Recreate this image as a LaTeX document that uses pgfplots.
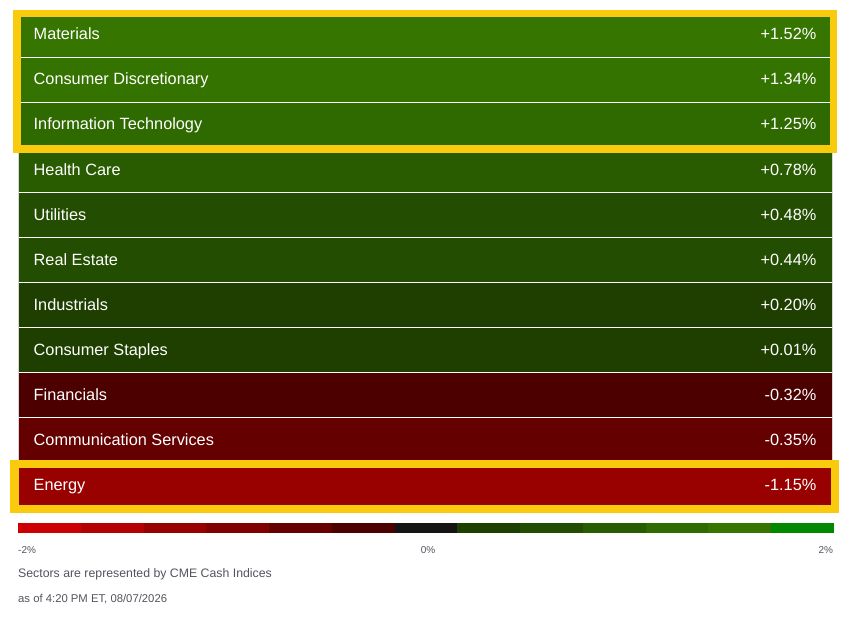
\documentclass[border=0pt]{standalone}
\usepackage{pgfplots}
\pgfplotsset{compat=1.18}
\usepackage{fontspec}
\setmainfont{Liberation Sans}

% row colours
\definecolor{cMat}{RGB}{53,117,0}
\definecolor{cDisc}{RGB}{53,115,0}
\definecolor{cTech}{RGB}{47,106,0}
\definecolor{cHealth}{RGB}{41,91,0}
\definecolor{cUtil}{RGB}{35,77,0}
\definecolor{cReal}{RGB}{35,77,0}
\definecolor{cInd}{RGB}{30,63,0}
\definecolor{cStap}{RGB}{30,63,0}
\definecolor{cFin}{RGB}{76,0,0}
\definecolor{cComm}{RGB}{100,0,0}
\definecolor{cEn}{RGB}{153,0,0}
\definecolor{hl}{RGB}{250,202,12}
\definecolor{foot}{RGB}{80,84,92}
\definecolor{edge}{RGB}{215,215,215}

% scale colours, -2% to 2%
\definecolor{s1}{RGB}{204,0,0}
\definecolor{s2}{RGB}{179,0,0}
\definecolor{s3}{RGB}{153,0,0}
\definecolor{s4}{RGB}{128,0,0}
\definecolor{s5}{RGB}{102,0,0}
\definecolor{s6}{RGB}{76,0,0}
\definecolor{s7}{RGB}{20,20,20}
\definecolor{s8}{RGB}{29,64,0}
\definecolor{s9}{RGB}{34,77,0}
\definecolor{s10}{RGB}{40,92,0}
\definecolor{s11}{RGB}{46,107,0}
\definecolor{s12}{RGB}{53,117,0}
\definecolor{s13}{RGB}{0,136,0}

% top, bottom, baseline, colour, name, change
\newcommand{\sector}[6]{%
  \addplot[fill=#4, draw=none] coordinates {(19,#1) (832,#1) (832,#2) (19,#2)} -- cycle;
  \node[anchor=base west, inner sep=0, text=white, font=\rowfont] at (axis cs:33.5,#3) {#5};
  \node[anchor=base east, inner sep=0, text=white, font=\rowfont] at (axis cs:816.5,#3) {#6};
}
\newcommand{\rowfont}{\fontsize{16.3bp}{19bp}\selectfont}
\newcommand{\seg}[3]{%
  \addplot[fill=#3, draw=none] coordinates {(#1,523.3) (#2,523.3) (#2,532.7) (#1,532.7)} -- cycle;
}

\begin{document}
\begin{tikzpicture}
\begin{axis}[
    width=852bp, height=617bp, scale only axis,
    xmin=0, xmax=852, ymin=0, ymax=617, y dir=reverse,
    hide axis, clip=false,
]
\sector{12.3}{57.3}{40}{cMat}{Materials}{+1.52\%}
\sector{57.3}{102.3}{85}{cDisc}{Consumer Discretionary}{+1.34\%}
\sector{102.3}{147.3}{130}{cTech}{Information Technology}{+1.25\%}
\sector{147.3}{192.3}{175}{cHealth}{Health Care}{+0.78\%}
\sector{192.3}{237.3}{220}{cUtil}{Utilities}{+0.48\%}
\sector{237.3}{282.3}{265}{cReal}{Real Estate}{+0.44\%}
\sector{282.3}{327.3}{310}{cInd}{Industrials}{+0.20\%}
\sector{327.3}{372.3}{355}{cStap}{Consumer Staples}{+0.01\%}
\sector{372.3}{417.3}{400}{cFin}{Financials}{-0.32\%}
\sector{417.3}{462.3}{445}{cComm}{Communication Services}{-0.35\%}
\sector{462.3}{507.3}{490}{cEn}{Energy}{-1.15\%}

% row separators and side edges
\addplot[white, line width=1bp] coordinates {(19,57.3) (832,57.3)};
\addplot[white, line width=1bp] coordinates {(19,102.3) (832,102.3)};
\addplot[white, line width=1bp] coordinates {(19,147.3) (832,147.3)};
\addplot[white, line width=1bp] coordinates {(19,192.3) (832,192.3)};
\addplot[white, line width=1bp] coordinates {(19,237.3) (832,237.3)};
\addplot[white, line width=1bp] coordinates {(19,282.3) (832,282.3)};
\addplot[white, line width=1bp] coordinates {(19,327.3) (832,327.3)};
\addplot[white, line width=1bp] coordinates {(19,372.3) (832,372.3)};
\addplot[white, line width=1bp] coordinates {(19,417.3) (832,417.3)};
\addplot[white, line width=1bp] coordinates {(19,462.3) (832,462.3)};
\addplot[edge, line width=1bp] coordinates {(18.5,12.3) (18.5,507.3)};
\addplot[edge, line width=1bp] coordinates {(832.5,12.3) (832.5,507.3)};

% highlight frames
\addplot[hl, line width=7.5bp] coordinates {(17,13.7) (833.5,13.7) (833.5,148.8) (17,148.8)} -- cycle;
\addplot[hl, line width=8.5bp] coordinates {(14.5,464) (834.8,464) (834.8,508.8) (14.5,508.8)} -- cycle;

% colour scale
\seg{18}{80.77}{s1}
\seg{80.77}{143.54}{s2}
\seg{143.54}{206.31}{s3}
\seg{206.31}{269.08}{s4}
\seg{269.08}{331.85}{s5}
\seg{331.85}{394.62}{s6}
\seg{394.62}{457.38}{s7}
\seg{457.38}{520.15}{s8}
\seg{520.15}{582.92}{s9}
\seg{582.92}{645.69}{s10}
\seg{645.69}{708.46}{s11}
\seg{708.46}{771.23}{s12}
\seg{771.23}{834}{s13}

\node[anchor=base west, inner sep=0, text=foot, font=\fontsize{10bp}{12bp}\selectfont] at (axis cs:18,553) {-2\%};
\node[anchor=base, inner sep=0, text=foot, font=\fontsize{10bp}{12bp}\selectfont] at (axis cs:428,553) {0\%};
\node[anchor=base east, inner sep=0, text=foot, font=\fontsize{10bp}{12bp}\selectfont] at (axis cs:833.3,553) {2\%};
\node[anchor=base west, inner sep=0, text=foot, font=\fontsize{12.3bp}{14bp}\selectfont] at (axis cs:18,577.7) {Sectors are represented by CME Cash Indices};
\node[anchor=base west, inner sep=0, text=foot, font=\fontsize{11.3bp}{13bp}\selectfont] at (axis cs:18,602.7) {as of 4:20 PM ET, 08/07/2026};
\end{axis}
\pgfresetboundingbox
\path (current axis.south west) rectangle (current axis.north east);
\end{tikzpicture}
\end{document}
